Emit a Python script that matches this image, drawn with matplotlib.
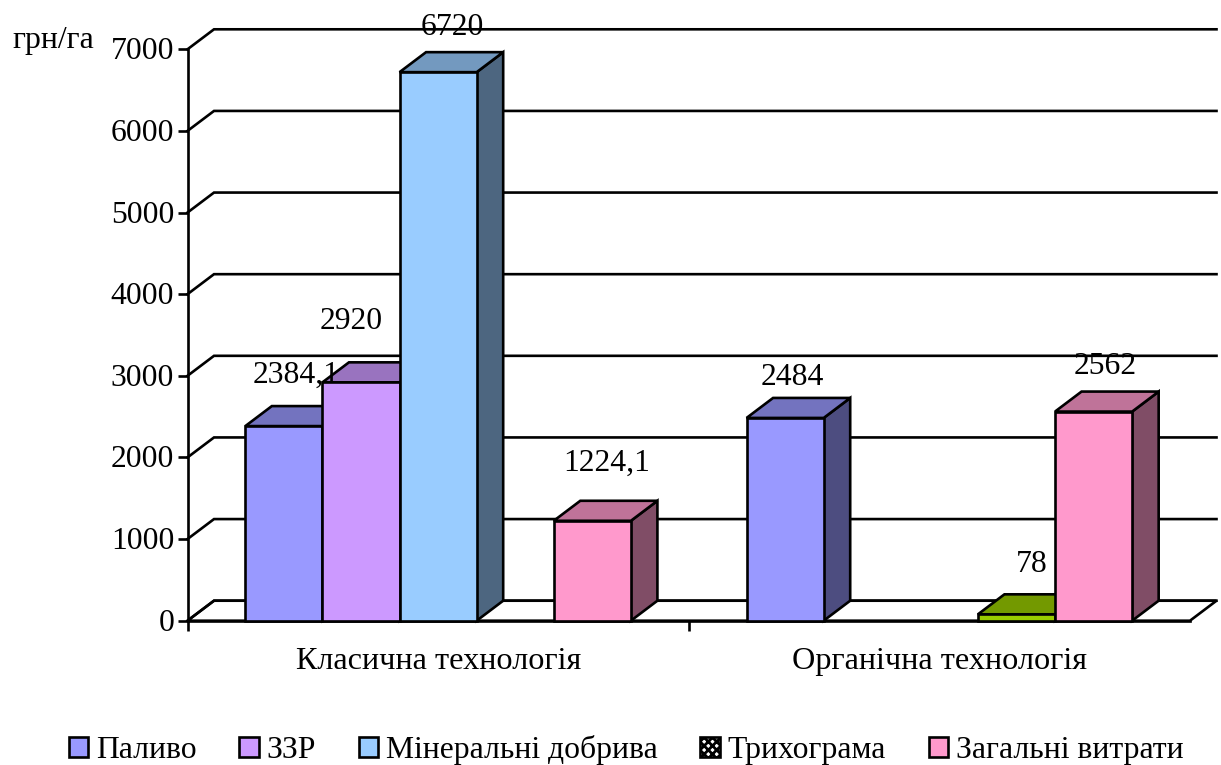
import numpy as np
import matplotlib
matplotlib.use("Agg")
import matplotlib.pyplot as plt
from matplotlib.patches import Polygon, Patch
from matplotlib.transforms import ScaledTranslation

plt.rcParams['font.family'] = ['Liberation Serif', 'DejaVu Serif']

# --- data ---
categories = ['Класична технологія', 'Органічна технологія']
fuel = [2384.1, 2484]
pesticides = [2920, np.nan]
fertilizers = [6720, np.nan]
trichogramma = [np.nan, 78]
total = [1224.1, 2562]
series_names = ['Паливо', 'ЗЗР', 'Мінеральні добрива', 'Трихограма', 'Загальні витрати']
fuel_labels = ['2384,1', '2484']
pesticides_labels = ['2920', '']
fertilizers_labels = ['6720', '']
trichogramma_labels = ['', '78']
total_labels = ['1224,1', '2562']
y_ticks = [0, 1000, 2000, 3000, 4000, 5000, 6000, 7000]
y_unit = 'грн/га'

# --- style ---
W, H = 1221, 765
FS = 22.8
LW = 1.9
front = ['#9999FF', '#CC99FF', '#99CCFF', '#99CC00', '#FF99CC']
top = ['#7373BF', '#9973BF', '#7399BF', '#739900', '#BF7399']
side = ['#4D4D80', '#664D80', '#4D6680', '#4D6600', '#804D66']
plt.rcParams['hatch.linewidth'] = 2.0
# offsets of each value label from the bar top centre, in pixels (dx, dy to label centre)
label_offsets = [
    [(12, 50.5), (7.5, 40.5)],
    [(-10, 60.5), (0, 0)],
    [(14.5, 45), (0, 0)],
    [(0, 0), (15.5, 50)],
    [(14.5, 57), (12, 45.5)],
]

fig = plt.figure(figsize=(W / 100, H / 100), dpi=100, facecolor='white')
L, R, T, B = 187.5, 1190, 49.3, 620.7
ax = fig.add_axes([L / W, 1 - B / H, (R - L) / W, (B - T) / H])
ax.set_xlim(-0.5, 1.5)
ax.set_ylim(0, 7000)
ax.patch.set_alpha(0)

px_x = 2 / (R - L)
px_y = 7000 / (B - T)
DX = 26.5 * px_x
DY = 20 * px_y

for s in ('top', 'right'):
    ax.spines[s].set_visible(False)
for s in ('left', 'bottom'):
    ax.spines[s].set_linewidth(LW)
    ax.spines[s].set_zorder(2)

# floor and back gridlines
ax.add_patch(Polygon([(-0.5, 0), (1.5, 0), (1.5 + DX, DY), (-0.5 + DX, DY)], closed=True,
                     facecolor='white', edgecolor='black', lw=LW, clip_on=False, zorder=1))
for v in y_ticks:
    ax.plot([-0.5, -0.5 + DX, 1.5 + DX], [v, v + DY, v + DY], color='black', lw=LW,
            clip_on=False, zorder=1, solid_joinstyle='miter')

# bars
all_vals = [fuel, pesticides, fertilizers, trichogramma, total]
all_labels = [fuel_labels, pesticides_labels, fertilizers_labels, trichogramma_labels, total_labels]
bw = 1 / 6.5
z = 3
for g in range(len(categories)):
    for i, vals in enumerate(all_vals):
        v = vals[g]
        if np.isnan(v):
            continue
        x0 = g - 2.5 * bw + i * bw
        x1 = x0 + bw
        z += 1
        ax.add_patch(Polygon([(x1, 0), (x1 + DX, DY), (x1 + DX, v + DY), (x1, v)], closed=True,
                             facecolor=side[i], edgecolor='black', lw=LW, clip_on=False,
                             zorder=z, joinstyle='miter'))
        ax.add_patch(Polygon([(x0, v), (x0 + DX, v + DY), (x1 + DX, v + DY), (x1, v)], closed=True,
                             facecolor=top[i], edgecolor='black', lw=LW, clip_on=False,
                             zorder=z, joinstyle='miter'))
        ax.bar(x0, v, width=bw, align='edge', color=front[i], edgecolor='black', lw=LW,
               clip_on=False, zorder=z + 0.5)

# value labels
for i, (vals, labs) in enumerate(zip(all_vals, all_labels)):
    for g, (v, lab) in enumerate(zip(vals, labs)):
        if not lab:
            continue
        xc = g - 2.5 * bw + (i + 0.5) * bw
        ox, oy = label_offsets[i][g]
        ax.annotate(lab, (xc, v), xytext=(ox * 0.72, oy * 0.72), textcoords='offset points',
                    ha='center', va='center', fontsize=FS, color='black', zorder=100,
                    annotation_clip=False)

# axes ticks and labels
ax.set_yticks(y_ticks)
ax.tick_params(axis='y', length=7.2, width=LW, pad=2.4, labelsize=FS, color='black')
for lbl in ax.get_yticklabels():
    lbl.set_transform(lbl.get_transform() + ScaledTranslation(0, 1 / 100, fig.dpi_scale_trans))
ax.set_xticks([-0.5, 0.5])
ax.set_xticklabels(['', ''])
ax.tick_params(axis='x', which='major', length=7.5, width=LW)
ax.set_xticks([0, 1], minor=True)
ax.set_xticklabels(categories, minor=True, fontsize=23.2)
ax.tick_params(axis='x', which='minor', length=0, pad=19.1)

fig.text(53 / W, 1 - 40.5 / H, y_unit, fontsize=FS, ha='center', va='center')

# legend
handles = []
for i, name in enumerate(series_names):
    if i == 3:
        handles.append(Patch(facecolor='white', edgecolor='black', hatch='xxxx', lw=LW, label=name))
    else:
        handles.append(Patch(facecolor=front[i], edgecolor='black', lw=LW, label=name))
leg = fig.legend(handles=handles, ncol=5, loc='center', bbox_to_anchor=(626 / W, 1 - 750 / H),
                 frameon=False, fontsize=FS, handlelength=0.62, handleheight=0.62,
                 handletextpad=0.24, columnspacing=1.35, borderpad=0, borderaxespad=0)

fig.savefig('out.png', dpi=100, facecolor='white')
